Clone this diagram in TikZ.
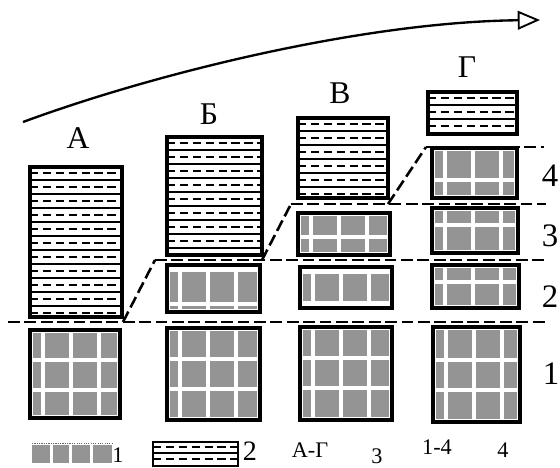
\documentclass[tikz,border=0pt]{standalone}
\usepackage{fontspec}
\setmainfont{Liberation Serif}
\usetikzlibrary{arrows.meta}
\newcommand\TexBox[5]{%
  \fill[stip] (#1+3,#2+3) rectangle (#3-3,#4-3);
  \foreach \v in {13,41,69} \fill[white] (#1+\v-2,#2+2) rectangle (#1+\v+2,#4-2);
  \foreach \h in {#5} \fill[white] (#1+2,#2+\h-2) rectangle (#3-2,#2+\h+2);
  \draw[frame] (#1,#2) rectangle (#3,#4);
}
\newcommand\LineBox[4]{%
  \begin{scope}
    \clip (#1+1,#2+2) rectangle (#3-1,#4-2);
    \foreach \k in {0,...,11} {
      \draw[thinl,idash] (#1,#2+6+14*\k) -- (#3,#2+6+14*\k);
      \draw[thinl] (#1,#2+13+14*\k) -- (#3,#2+13+14*\k);
    }
  \end{scope}
  \draw[frame] (#1,#2) rectangle (#3,#4);
}
\begin{document}
\begin{tikzpicture}[x=0.03cm,y=-0.03cm,
  frame/.style={draw=black,line width=2.9pt},
  stip/.style={fill=black!42},
  thinl/.style={draw=black,line width=0.95pt},
  idash/.style={dash pattern=on 7pt off 4pt},
  stair/.style={draw=black,line width=2.2pt,dash pattern=on 10pt off 4pt},
  big/.style={inner sep=0pt,font=\fontsize{27}{27}\selectfont},
  num/.style={inner sep=0pt,font=\fontsize{28}{28}\selectfont},
  leg/.style={inner sep=0pt,font=\fontsize{19}{19}\selectfont}]
\useasboundingbox (0,0) rectangle (560,467);

% arrow
\coordinate (arrS) at (23,122);
\coordinate (arrE) at (540,20);
\draw[line width=2pt,-{Triangle[open,length=19pt,width=16pt,line width=1.6pt]}]
  (arrS) .. controls (150,75) and (360,22) .. (arrE);

% column labels
\node[big] (lA) at (78,138) {А};
\node[big] (lB) at (209,114) {Б};
\node[big] (lV) at (340,93) {В};
\node[big] (lG) at (467,67) {Г};

% lined boxes
\LineBox{30}{167}{122}{317}
\LineBox{167}{137}{262}{255}
\LineBox{298}{118}{388}{198}
\LineBox{428}{92}{517}{134}

% textured boxes
\TexBox{30}{330}{120}{418}{30,60}
\TexBox{167}{328}{260}{420}{31,61}
\TexBox{300}{327}{392}{420}{31,61}
\TexBox{433}{327}{520}{422}{33,63}
\TexBox{167}{265}{260}{312}{5,39}
\TexBox{298}{213}{390}{255}{24}
\TexBox{300}{267}{392}{308}{5,36}
\TexBox{432}{148}{517}{198}{32}
\TexBox{432}{208}{518}{253}{17}
\TexBox{432}{265}{519}{308}{17}

% level boundaries
\coordinate (s1a) at (123,322);
\coordinate (s1b) at (155,260);
\coordinate (s2a) at (262,260);
\coordinate (s2b) at (291,204);
\coordinate (s3a) at (388,204);
\coordinate (s3b) at (426,147);
\draw[stair] (8,322) -- (546,322);
\draw[stair] (s1a) -- (s1b);
\draw[stair] (s1b) -- (546,260);
\draw[stair] (s2a) -- (s2b);
\draw[stair] (s2b) -- (546,204);
\draw[stair] (s3a) -- (s3b);
\draw[stair] (s3b) -- (544,147);

% level numbers
\node[num] (n4) at (550,176) {4};
\node[num] (n3) at (550,236) {3};
\node[num] (n2) at (550,297) {2};
\node[num] (n1) at (551,374) {1};

% legend
\fill[stip] (32,445) rectangle (112,463);
\foreach \v in {51,70,91} \fill[white] (\v-1.5,444) rectangle (\v+1.5,464);
\draw[black!60,line width=0.8pt,dash pattern=on 1pt off 1pt] (32,443) -- (112,443);
\node[leg] (g1) at (118,455) {1};
\draw[line width=1pt] (153,442) rectangle (238,466);
\draw[thinl,idash] (153,447) -- (238,447);
\draw[thinl] (153,453) -- (238,453);
\draw[thinl,idash] (153,459) -- (238,459);
\node[inner sep=0pt,font=\fontsize{24}{24}\selectfont] (g2) at (250,451) {2};
\node[leg] (gAG) at (310,450) {А-Г};
\node[leg] (g3) at (377,456) {3};
\node[leg] (g14) at (437,447) {1-4};
\node[leg] (g4) at (503,450) {4};
\end{tikzpicture}
\end{document}
